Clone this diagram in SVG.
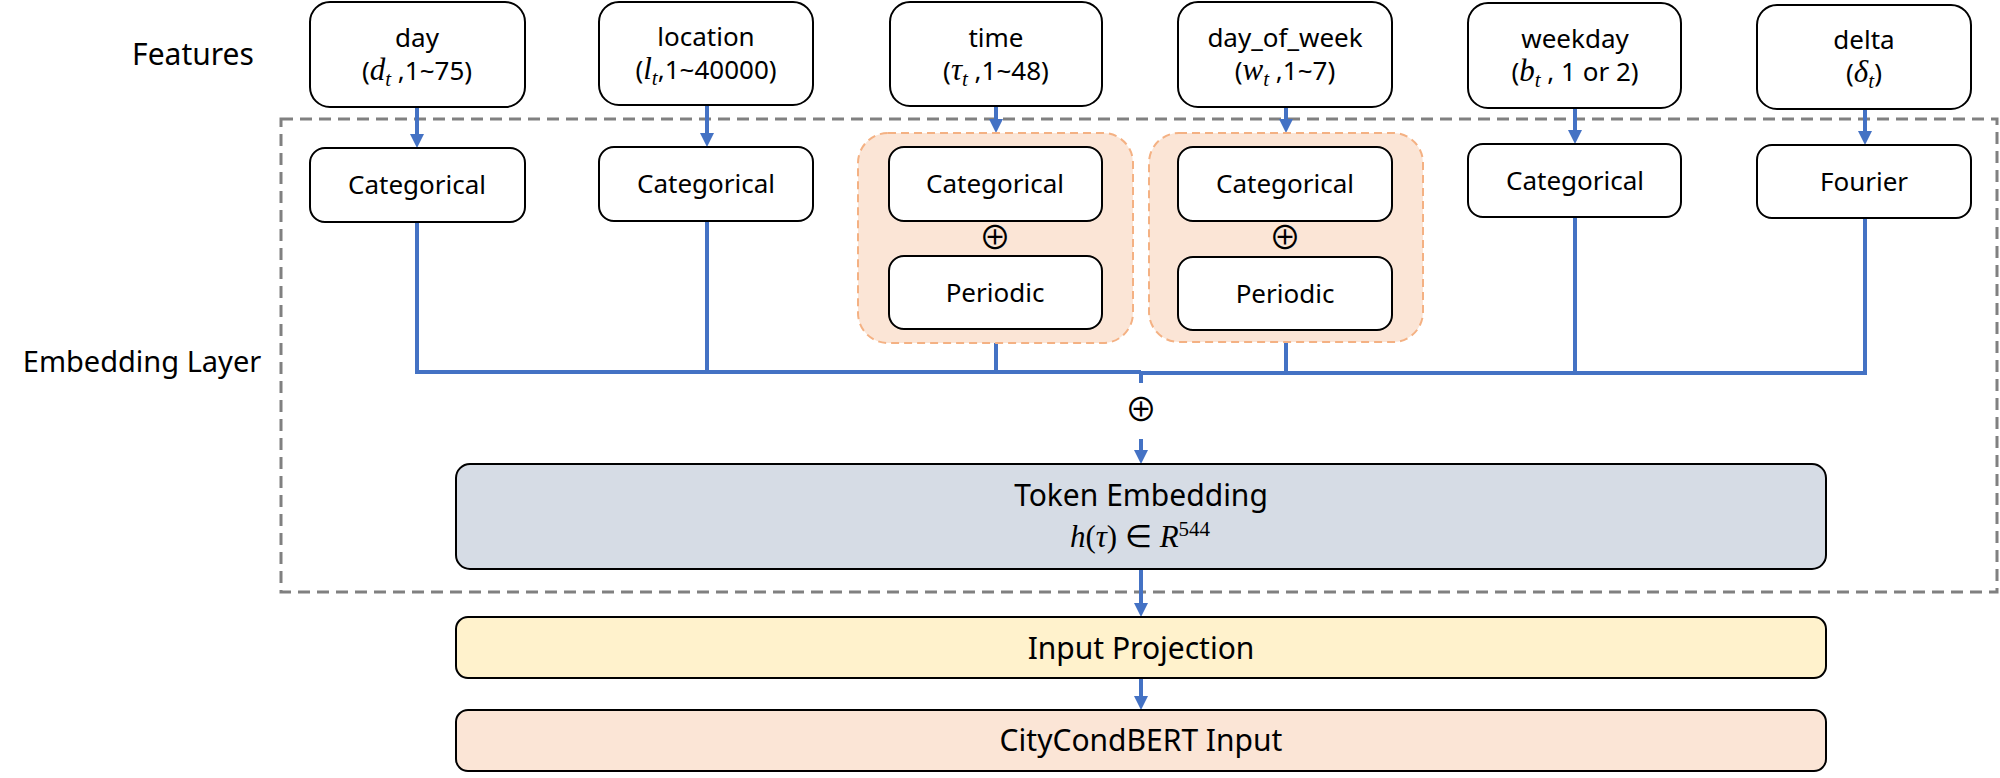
<svg xmlns="http://www.w3.org/2000/svg" width="2000" height="778" viewBox="0 0 2000 778">
<defs>
<style>
.box{fill:#fff;stroke:#000;stroke-width:2}
.grp{fill:#FBE5D6;stroke:#F4B183;stroke-width:2;stroke-dasharray:8 5}
.lbl{font-family:"Noto Sans","Liberation Sans",sans-serif;font-size:26px;fill:#000;text-anchor:middle}
.big{font-family:"Noto Sans","Liberation Sans",sans-serif;font-size:30px;fill:#000;text-anchor:middle}
.m{font-family:"Liberation Serif","DejaVu Serif",serif;font-style:italic;font-size:31px}
.ms{font-family:"Liberation Serif","DejaVu Serif",serif;font-style:italic;font-size:21px}
.conn{stroke:#4472C4;stroke-width:4;fill:none}
.op{font-family:"Noto Sans CJK KR","DejaVu Sans",sans-serif;font-size:32px;fill:#000;text-anchor:middle}
</style>
<marker id="ah" markerUnits="userSpaceOnUse" markerWidth="14" markerHeight="14" refX="2" refY="7" orient="auto">
<path d="M0,0 L14,7 L0,14 z" fill="#4472C4"/>
</marker>
</defs>
<rect width="2000" height="778" fill="#fff"/>

<g id="section-labels">
<text class="big" x="193" y="65">Features</text>
<text class="big" x="142" y="372" style="font-size:29px">Embedding Layer</text>
</g>

<g id="embedding-layer-frame">
<rect x="281" y="119" width="1716" height="473" fill="none" stroke="#808080" stroke-width="3" stroke-dasharray="12 7"/>
</g>

<g id="connectors">
<line class="conn" x1="417" y1="107" x2="417" y2="136" marker-end="url(#ah)"/>
<line class="conn" x1="707" y1="105" x2="707" y2="135" marker-end="url(#ah)"/>
<line class="conn" x1="996" y1="106" x2="996" y2="121" marker-end="url(#ah)"/>
<line class="conn" x1="1286" y1="107" x2="1286" y2="121" marker-end="url(#ah)"/>
<line class="conn" x1="1575" y1="108" x2="1575" y2="132" marker-end="url(#ah)"/>
<line class="conn" x1="1865" y1="109" x2="1865" y2="133" marker-end="url(#ah)"/>
<path class="conn" d="M417,222 V372 H1141 M707,221 V372 M996,343 V372 M1286,342 V372 M1575,217 V372 M1865,218 V373 H1141"/>
<line class="conn" x1="1141" y1="372" x2="1141" y2="383"/>
<line class="conn" x1="1141" y1="439" x2="1141" y2="452" marker-end="url(#ah)"/>
<line class="conn" x1="1141" y1="569" x2="1141" y2="605" marker-end="url(#ah)"/>
<line class="conn" x1="1141" y1="678" x2="1141" y2="698" marker-end="url(#ah)"/>
<text class="op" x="1141" y="421">⊕</text>
</g>

<g id="feat-day">
<rect class="box" x="310" y="2" width="215" height="105" rx="20"/>
<text class="lbl" x="417" y="47">day</text>
<text class="lbl" x="417" y="80">(<tspan class="m">d</tspan><tspan class="ms" dy="6">t</tspan><tspan dy="-6"> ,1~75)</tspan></text>
</g>
<g id="feat-location">
<rect class="box" x="599" y="2" width="214" height="103" rx="20"/>
<text class="lbl" x="706" y="46">location</text>
<text class="lbl" x="706" y="79">(<tspan class="m">l</tspan><tspan class="ms" dy="6">t</tspan><tspan dy="-6">,1~40000)</tspan></text>
</g>
<g id="feat-time">
<rect class="box" x="890" y="2" width="212" height="104" rx="20"/>
<text class="lbl" x="996" y="47">time</text>
<text class="lbl" x="996" y="80">(<tspan class="m">τ</tspan><tspan class="ms" dy="6">t</tspan><tspan dy="-6"> ,1~48)</tspan></text>
</g>
<g id="feat-day_of_week">
<rect class="box" x="1178" y="2" width="214" height="105" rx="20"/>
<text class="lbl" x="1285" y="47">day_of_week</text>
<text class="lbl" x="1285" y="80">(<tspan class="m">w</tspan><tspan class="ms" dy="6">t</tspan><tspan dy="-6"> ,1~7)</tspan></text>
</g>
<g id="feat-weekday">
<rect class="box" x="1468" y="3" width="213" height="105" rx="20"/>
<text class="lbl" x="1575" y="48">weekday</text>
<text class="lbl" x="1575" y="81">(<tspan class="m">b</tspan><tspan class="ms" dy="6">t</tspan><tspan dy="-6"> , 1 or 2)</tspan></text>
</g>
<g id="feat-delta">
<rect class="box" x="1757" y="5" width="214" height="104" rx="20"/>
<text class="lbl" x="1864" y="49">delta</text>
<text class="lbl" x="1864" y="82">(<tspan class="m">δ</tspan><tspan class="ms" dy="6">t</tspan><tspan dy="-6">)</tspan></text>
</g>

<g id="emb-day">
<rect class="box" x="310" y="148" width="215" height="74" rx="15"/>
<text class="lbl" x="417" y="194">Categorical</text>
</g>
<g id="emb-location">
<rect class="box" x="599" y="147" width="214" height="74" rx="15"/>
<text class="lbl" x="706" y="193">Categorical</text>
</g>
<g id="emb-time">
<rect class="grp" x="858" y="133" width="275" height="210" rx="30"/>
<rect class="box" x="889" y="147" width="213" height="74" rx="15"/>
<text class="lbl" x="995" y="193">Categorical</text>
<text class="op" x="995" y="249">⊕</text>
<rect class="box" x="889" y="256" width="213" height="73" rx="15"/>
<text class="lbl" x="995" y="302">Periodic</text>
</g>
<g id="emb-day_of_week">
<rect class="grp" x="1149" y="133" width="274" height="209" rx="30"/>
<rect class="box" x="1178" y="147" width="214" height="74" rx="15"/>
<text class="lbl" x="1285" y="193">Categorical</text>
<text class="op" x="1285" y="249">⊕</text>
<rect class="box" x="1178" y="257" width="214" height="73" rx="15"/>
<text class="lbl" x="1285" y="303">Periodic</text>
</g>
<g id="emb-weekday">
<rect class="box" x="1468" y="144" width="213" height="73" rx="15"/>
<text class="lbl" x="1575" y="190">Categorical</text>
</g>
<g id="emb-delta">
<rect class="box" x="1757" y="145" width="214" height="73" rx="15"/>
<text class="lbl" x="1864" y="191">Fourier</text>
</g>

<g id="token-embedding">
<rect x="456" y="464" width="1370" height="105" rx="14" fill="#D6DCE5" stroke="#000" stroke-width="2"/>
<text class="big" x="1141" y="506">Token Embedding</text>
<text class="big" x="1140" y="547"><tspan class="m" style="font-size:31px">h</tspan><tspan style="font-family:'Liberation Serif',serif;font-size:31px">(</tspan><tspan class="m" style="font-size:31px">τ</tspan><tspan style="font-family:'Liberation Serif',serif;font-size:31px">) ∈ </tspan><tspan class="m" style="font-size:31px">R</tspan><tspan style="font-family:'Liberation Serif',serif;font-size:21px" dy="-11">544</tspan></text>
</g>
<g id="input-projection">
<rect x="456" y="617" width="1370" height="61" rx="12" fill="#FFF2CC" stroke="#000" stroke-width="2"/>
<text class="big" x="1141" y="659">Input Projection</text>
</g>
<g id="citycondbert-input">
<rect x="456" y="710" width="1370" height="61" rx="12" fill="#FBE5D6" stroke="#000" stroke-width="2"/>
<text class="big" x="1141" y="751">CityCondBERT Input</text>
</g>
</svg>
